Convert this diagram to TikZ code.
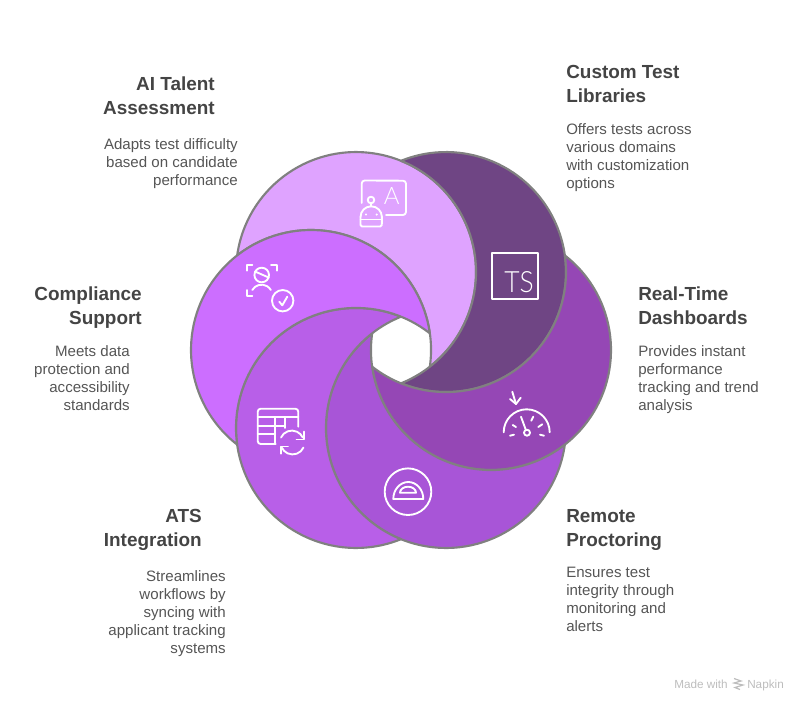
\documentclass[tikz,border=0pt]{standalone}
\usepackage{fontspec}
\setmainfont{Liberation Sans}
\newfontfamily\thinfont{Lato Light}
\definecolor{cAI}{HTML}{DFA3FF}
\definecolor{cDark}{HTML}{6F4584}
\definecolor{cRT}{HTML}{9547B5}
\definecolor{cRem}{HTML}{A855D7}
\definecolor{cATS}{HTML}{B85FE8}
\definecolor{cCom}{HTML}{CC6EFF}
\definecolor{edge}{HTML}{808080}
\definecolor{titlec}{HTML}{444444}
\definecolor{bodyc}{HTML}{555555}
\definecolor{markc}{HTML}{BDBDBD}
\tikzset{
  crescent/.style={draw=edge,line width=1.6pt,line join=round},
  icon/.style={draw=white,line width=1.4pt,line cap=round,line join=round},
  heading/.style={inner sep=0pt,text=titlec,font=\fontsize{14.2}{18}\bfseries\selectfont},
  bodytext/.style={inner sep=0pt,text=bodyc,font=\fontsize{11.3}{13.5}\selectfont},
  lefttext/.style={anchor=north west,align=left},
  righttext/.style={anchor=north east,align=right},
  iconglyph/.style={inner sep=0pt,text=white},
  marktext/.style={inner sep=0pt,anchor=base west,text=markc,font=\fontsize{8.8}{10}\selectfont},
}
\newcommand{\crescent}[2]{%
  \draw[crescent,fill=#2] (O) ++(#1:90) ++(#1-52.02:120)
    arc[start angle=#1-52.02,delta angle=224.04,radius=120]
    arc[start angle=#1+127.98,delta angle=-135.96,radius=120] -- cycle;}
\begin{document}
\begin{tikzpicture}[x=0.75pt,y=-0.75pt]
\useasboundingbox (0,0) rectangle (804,708);
\coordinate (O) at (401,350);
\crescent{-120}{cAI}
\crescent{-60}{cDark}
\crescent{0}{cRT}
\crescent{60}{cRem}
\crescent{120}{cATS}
\crescent{180}{cCom}

% texts
\node[heading,righttext] (t1) at (215,77) {AI Talent\\Assessment};
\node[bodytext,righttext] (b1) at (238,138) {Adapts test difficulty\\based on candidate\\performance};
\node[heading,lefttext] (t2) at (566,65.5) {Custom Test\\Libraries};
\node[bodytext,lefttext] (b2) at (566,123) {Offers tests across\\various domains\\with customization\\options};
\node[heading,lefttext] (t3) at (638,287) {Real-Time\\Dashboards};
\node[bodytext,lefttext] (b3) at (638,345) {Provides instant\\performance\\tracking and trend\\analysis};
\node[heading,lefttext] (t4) at (566,509) {Remote\\Proctoring};
\node[bodytext,lefttext] (b4) at (566,567) {Ensures test\\integrity through\\monitoring and\\alerts};
\node[heading,righttext] (t5) at (202,509) {ATS\\Integration};
\node[bodytext,righttext] (b5) at (226,570) {Streamlines\\workflows by\\syncing with\\applicant tracking\\systems};
\node[heading,righttext] (t6) at (142,287) {Compliance\\Support};
\node[bodytext,righttext] (b6) at (130,345) {Meets data\\protection and\\accessibility\\standards};

% AI icon
\draw[icon] (361.7,203) -- (361.7,183.5) arc[start angle=180,delta angle=90,radius=3] -- (403,180.7) arc[start angle=-90,delta angle=90,radius=3] -- (406,212) arc[start angle=0,delta angle=90,radius=3] -- (386,215);
\node[iconglyph,font=\thinfont\fontsize{18}{18}\selectfont] (iconA) at (391.8,196.5) {A};
\draw[icon] (371,200) circle[radius=3.3];
\draw[icon] (371,203.3) -- (371,206.5);
\draw[icon] (360.5,217) arc[start angle=180,delta angle=180,radius=10.7];
\draw[icon] (360.5,217) -- (360.5,225) arc[start angle=180,delta angle=-90,radius=1.5] -- (380.3,226.5) arc[start angle=90,delta angle=-90,radius=1.5] -- (381.9,217);
\draw[icon] (360.5,219.5) -- (381.9,219.5);
\fill[white] (366,214.5) circle[radius=1.2] (376.7,214.5) circle[radius=1.2];

% TS icon
\draw[icon] (491.7,252.7) rectangle (538.3,299.3);
\node[iconglyph,font=\thinfont\fontsize{22}{22}\selectfont,xscale=0.9] (iconTS) at (519,282.5) {TS};

% compliance icon
\draw[icon] (246.7,270.7) -- (246.7,265) -- (252.3,265);
\draw[icon] (271,265) -- (276.7,265) -- (276.7,270.7);
\draw[icon] (246.7,290) -- (246.7,296) -- (252.3,296);
\draw[icon] (261.7,275) circle[radius=7.3];
\draw[icon] (255,271.5) -- (268.7,277.5);
\draw[icon] (252.3,290) arc[start angle=-150,delta angle=120,radius=10.7];
\draw[icon] (282.7,300.7) circle[radius=10.7];
\draw[icon] (279.3,301.7) -- (282.3,305.3) -- (287.3,296.7);

% table icon
\draw[icon] (275.7,444) -- (260.7,444) arc[start angle=90,delta angle=90,radius=3] -- (257.7,411.7) arc[start angle=180,delta angle=90,radius=3] -- (295.3,408.7) arc[start angle=-90,delta angle=90,radius=3] -- (298.3,426.7);
\draw[icon] (257.7,417.3) -- (298.3,417.3);
\draw[icon] (257.7,426) -- (285,426);
\draw[icon] (257.7,434.3) -- (275.2,434.3);
\draw[icon] (275.2,417.3) -- (275.2,444);
\draw[icon] (285,417.3) -- (285,428);
\draw[icon] (281,437.5) arc[start angle=-155,delta angle=130,radius=12];
\draw[icon] (303.7,431.5) -- (303.7,439.5) -- (296.5,439.5);
\draw[icon] (303.5,447.5) arc[start angle=25,delta angle=130,radius=12];
\draw[icon] (280.7,453.7) -- (280.7,446.5) -- (288,446.5);

% protractor icon
\draw[icon] (408,491.7) circle[radius=23.3];
\draw[icon] (393.3,499) arc[start angle=180,delta angle=180,x radius=15,y radius=17] -- cycle;
\draw[icon] (400,492.7) arc[start angle=180,delta angle=180,x radius=8,y radius=6] -- cycle;

% gauge icon
\draw[icon] (503.7,432.3) arc[start angle=180,delta angle=180,radius=23];
\draw[icon] (527,432.7) circle[radius=3];
\draw[icon] (525.8,429.8) -- (521,416.7);
\draw[icon] (510,435.7) -- (514,434.7);
\draw[icon] (512.7,425) -- (516,427);
\draw[icon] (533.3,416.7) -- (531.3,420.7);
\draw[icon] (542.3,424.3) -- (538.3,427);
\draw[icon] (544,435.7) -- (540,434.7);
\draw[icon] (512.3,391.7) -- (516,404);
\draw[icon] (510,399) -- (516,404) -- (520.7,397.7);

% watermark
\node[marktext] (made) at (674,688) {Made with};
\node[marktext] (napkin) at (747,688) {Napkin};
\draw[markc,line width=0.9pt] (734,678.5) -- (741,681) -- (734,683) -- (743,685) -- (735,687.5) -- (740,689.5);
\end{tikzpicture}
\end{document}
